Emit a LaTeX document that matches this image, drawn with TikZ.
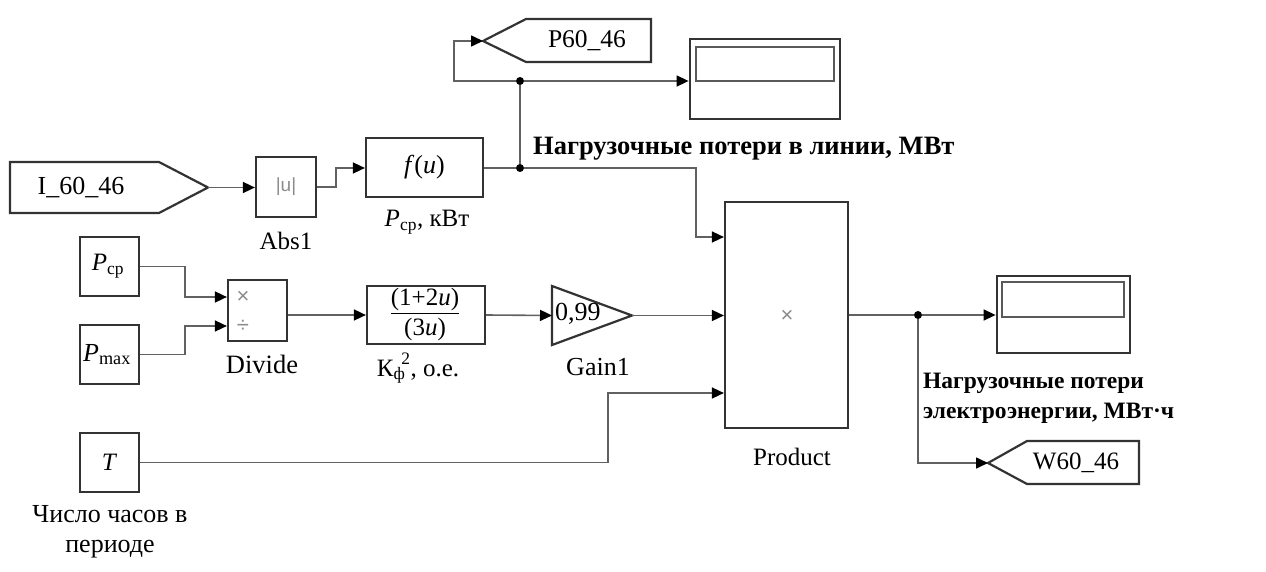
\documentclass[tikz,border=0pt]{standalone}
\usepackage{fontspec}
\setmainfont{Liberation Serif}
\newfontfamily\sansf{Liberation Sans}
\usetikzlibrary{arrows.meta}
\tikzset{
  blk/.style={draw=black!80, line width=2.2pt, fill=white, inner sep=0pt},
  wire/.style={draw=black!62, line width=1.6pt},
  arr/.style={wire, -{Triangle[length=12pt,width=11pt,color=black]}},
  jdot/.style={circle, fill=black, inner sep=0pt, minimum size=8pt},
  lbl/.style={inner sep=0pt, font=\fontsize{25}{29}\selectfont},
  blbl/.style={inner sep=0pt, anchor=west, align=left, font=\fontsize{24}{30}\selectfont\bfseries},
  sym/.style={inner sep=0pt, text=black!45, font=\sansf\fontsize{19}{21}\selectfont}
}
\begin{document}
\begin{tikzpicture}[x=1pt,y=-1pt]
\useasboundingbox (0,0) rectangle (1266,572);
\fill[white] (0,0) rectangle (1266,572);

% From tag I_60_46
\draw[blk] (10,162) -- (159,162) -- (208,187.5) -- (159,213) -- (10,213) -- cycle;
\coordinate (itip) at (208,187.5);
\node[lbl, font=\fontsize{26}{30}\selectfont] (itxt) at (81,188) {I\_60\_46};

% Abs block
\node[blk, minimum width=60pt, minimum height=60pt] (abs) at (286,187) {};
\node[sym] (abssym) at (286,187) {|u|};
\node[lbl] (abslbl) at (286,241) {Abs1};

% f(u) block
\node[blk, minimum width=117pt, minimum height=59pt] (fcn1) at (424.5,167.5) {};
\node[lbl, font=\fontsize{26}{30}\selectfont] (fcn1txt) at (424.5,167.5) {\textit{f}(\textit{u})};
\node[lbl] (fcn1lbl) at (427,222) {\textit{P}\textsubscript{ср}, кВт};

% goto P60_46
\draw[blk] (483,41) -- (526,19) -- (651,19) -- (651,62) -- (526,62) -- cycle;
\coordinate (ptip) at (483,41);
\node[lbl, font=\fontsize{25.5}{30}\selectfont] (ptxt) at (587,41) {P60\_46};

% display 1
\node[blk, line width=2.8pt, minimum width=150pt, minimum height=80pt] (disp1) at (765,79) {};
\draw[black!65, line width=1.6pt] (696,47) rectangle (834,81);
\node[blbl, font=\fontsize{26.5}{30}\selectfont\bfseries] (lbl1) at (533,149) {Нагрузочные потери в линии, МВт};

% constants
\node[blk, minimum width=59pt, minimum height=59pt] (pcp) at (109.5,266.5) {};
\node[lbl, font=\fontsize{25}{30}\selectfont] (pcptxt) at (108,266.5) {\textit{P}\textsubscript{ср}};
\node[blk, minimum width=59pt, minimum height=59pt] (pmax) at (109.5,354.5) {};
\node[lbl, font=\fontsize{26}{30}\selectfont] (pmaxtxt) at (107,354.5) {\textit{P}\textsubscript{max}};
\node[blk, minimum width=59pt, minimum height=59pt] (tc) at (109.5,462.5) {};
\node[lbl, font=\fontsize{25}{30}\selectfont] (tctxt) at (109.5,462.5) {\textit{T}};
\node[lbl, align=center, font=\fontsize{26}{30}\selectfont] (tlbl) at (110,532) {Число часов в\\периоде};

% Divide
\node[blk, minimum width=59pt, minimum height=61pt] (div) at (257.5,310.5) {};
\node[sym, font=\sansf\fontsize{22}{24}\selectfont] (mul) at (243,297) {×};
\node[sym, font=\sansf\fontsize{22}{24}\selectfont] (dvs) at (243,326) {÷};
\node[lbl, font=\fontsize{26.5}{30}\selectfont] (divlbl) at (262,364) {Divide};

% second fcn
\node[blk, minimum width=118pt, minimum height=58pt] (fcn2) at (426,315) {};
\node[lbl, font=\fontsize{25}{27}\selectfont] (fcn2txt) at (425,315) {\setlength{\arrayrulewidth}{1.3pt}\begin{tabular}{@{}c@{}}(1+2\textit{u})\\[-1pt]\hline\rule{0pt}{21pt}(3\textit{u})\end{tabular}};
\node[lbl] (fcn2lbl) at (418,368) {К\textsubscript{ф}\kern-4pt\raisebox{3pt}{\textsuperscript{2}}, о.е.};

% Gain
\draw[blk] (552,286) -- (632,315.5) -- (552,345) -- cycle;
\coordinate (gin) at (552,315.5);
\coordinate (gout) at (632,315.5);
\node[lbl, anchor=west, font=\fontsize{26}{30}\selectfont] (gtxt) at (555,314) {0,99};
\node[lbl, font=\fontsize{26}{30}\selectfont] (glbl) at (598,367) {Gain1};

% Product
\node[blk, minimum width=123pt, minimum height=226pt] (prod) at (786.5,315) {};
\node[sym, font=\sansf\fontsize{22}{24}\selectfont] (prodsym) at (787,316) {×};
\node[lbl] (prodlbl) at (792,457) {Product};

% display 2
\node[blk, line width=2.8pt, minimum width=133pt, minimum height=77pt] (disp2) at (1063.5,314.5) {};
\draw[black!65, line width=1.6pt] (1002,282) rectangle (1124,317);
\node[blbl, font=\fontsize{23.5}{30}\selectfont\bfseries] (lbl2) at (923,398) {Нагрузочные потери\\электроэнергии, МВт·ч};

% goto W60_46
\draw[blk] (988,463) -- (1027,441) -- (1139,441) -- (1139,484) -- (1027,484) -- cycle;
\coordinate (wtip) at (988,463);
\node[lbl] (wtxt) at (1076,463) {W60\_46};

% junctions
\node[jdot] (j1) at (520,168) {};
\node[jdot] (j2) at (520,81) {};
\node[jdot] (j3) at (918,315) {};

% connectors
\draw[arr] (itip) -- (abs.west |- itip);
\draw[arr] (abs.east) -- (336,187) -- (336,168) -- (fcn1.west |- j1);
\draw[wire] (fcn1.east |- j1) -- (j1);
\draw[arr] (j1) -- (696,168) -- (696,237) -- (prod.west |- 0,237);
\draw[wire] (j1) -- (j2);
\draw[arr] (j2) -- (disp1.west |- j2);
\draw[arr] (j2) -- (454,81) -- (454,41) -- (ptip);
\draw[arr] (pcp.east) -- (185,266.5) -- (185,297) -- (div.west |- 0,297);
\draw[arr] (pmax.east) -- (185,354.5) -- (185,326) -- (div.west |- 0,326);
\draw[arr] (div.east |- 0,315) -- (fcn2.west |- 0,315);
\draw[arr] (fcn2.east |- 0,315) -- (gin);
\draw[arr] (gout) -- (prod.west |- 0,315.5);
\draw[arr] (tc.east) -- (608,462.5) -- (608,393) -- (prod.west |- 0,393);
\draw[wire] (prod.east) -- (j3);
\draw[arr] (j3) -- (disp2.west |- j3);
\draw[arr] (j3) -- (918,463) -- (wtip);
\end{tikzpicture}
\end{document}
